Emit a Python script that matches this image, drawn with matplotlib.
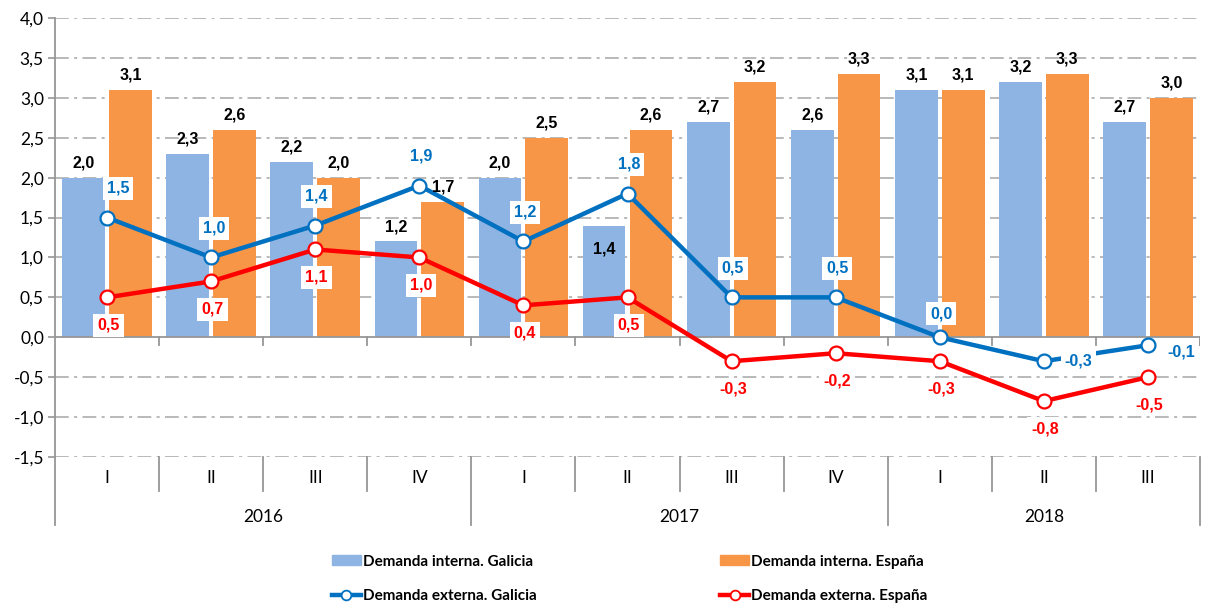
import matplotlib
matplotlib.use("Agg")
import matplotlib.pyplot as plt
import matplotlib.transforms as mtransforms
from matplotlib.lines import Line2D
from matplotlib.patches import Patch
import numpy as np

quarters = ["I", "II", "III", "IV", "I", "II", "III", "IV", "I", "II", "III"]
years = ["2016", "2017", "2018"]
year_spans = [(0, 4), (4, 8), (8, 11)]

interna_galicia = [2.0, 2.3, 2.2, 1.2, 2.0, 1.4, 2.7, 2.6, 3.1, 3.2, 2.7]
interna_espana = [3.1, 2.6, 2.0, 1.7, 2.5, 2.6, 3.2, 3.3, 3.1, 3.3, 3.0]
externa_galicia = [1.5, 1.0, 1.4, 1.9, 1.2, 1.8, 0.5, 0.5, 0.0, -0.3, -0.1]
externa_espana = [0.5, 0.7, 1.1, 1.0, 0.4, 0.5, -0.3, -0.2, -0.3, -0.8, -0.5]

yticks = [-1.5, -1.0, -0.5, 0.0, 0.5, 1.0, 1.5, 2.0, 2.5, 3.0, 3.5, 4.0]

C_BG = "#8DB4E2"
C_BE = "#F79646"
C_LG = "#0070C0"
C_LE = "#FF0000"
GRID = "#A6A6A6"

TICKFONT = "Lato"
LABFONT = "Liberation Sans"
LABSIZE = 11.5
TICKSIZE = 12.5

def fmt(v):
    return f"{v:.1f}".replace(".", ",")

fig = plt.figure(figsize=(12.06, 6.06), dpi=100)
ax = fig.add_axes([55/1206, 1-457/606, (1200-55)/1206, (457-18)/606])

x = np.arange(len(quarters))
bw = 0.41
off = 0.225

ax.set_xlim(-0.5, len(quarters)-0.5)
ax.set_ylim(-1.5, 4.0)

for t in yticks:
    if t == 0.0:
        continue
    ax.axhline(t, color=GRID, lw=1.1, ls=(0, (9, 3.5, 2, 3.5)), zorder=0)

ax.bar(x - off, interna_galicia, width=bw, color=C_BG, zorder=2)
ax.bar(x + off, interna_espana, width=bw, color=C_BE, zorder=2)

ax.axhline(0, color="#969696", lw=1.3, zorder=3)
for b in np.arange(0.5, len(quarters), 1.0):
    ax.add_line(Line2D([b, b], [0, -0.1], color="#969696", lw=1.3, zorder=3))
ax.add_line(Line2D([len(quarters)-0.5]*2, [0, -0.1], color="#969696", lw=1.3, zorder=3))

ax.plot(x, externa_galicia, color=C_LG, lw=3.2, marker="o", ms=10, mfc="white",
        mec=C_LG, mew=1.6, zorder=5)
ax.plot(x, externa_espana, color=C_LE, lw=3.2, marker="o", ms=10, mfc="white",
        mec=C_LE, mew=1.6, zorder=5)

# bar labels
for i, v in enumerate(interna_galicia):
    dy = 5 if i != 5 else -22
    ax.annotate(fmt(v), (x[i]-off, v), xytext=(0, dy), textcoords="offset points",
                ha="center", va="bottom", fontsize=LABSIZE, fontweight="bold",
                family=LABFONT, color="black", zorder=6)
for i, v in enumerate(interna_espana):
    ax.annotate(fmt(v), (x[i]+off, v), xytext=(0, 5), textcoords="offset points",
                ha="center", va="bottom", fontsize=LABSIZE, fontweight="bold",
                family=LABFONT, color="black", zorder=6)

box = dict(boxstyle="square,pad=0.25", fc="white", ec="none")
g_off = [(8, 21), (2, 21), (1, 21), (1, 21), (1, 21), (1, 21), (1, 21), (1, 21),
         (1, 17), (25, 0), (24, -5)]
for i, v in enumerate(externa_galicia):
    dx, dy = g_off[i]
    ax.annotate(fmt(v), (x[i], v), xytext=(dx, dy), textcoords="offset points",
                ha="center", va="center", fontsize=LABSIZE, fontweight="bold",
                family=LABFONT, color=C_LG, bbox=box, zorder=7)
for i, v in enumerate(externa_espana):
    ax.annotate(fmt(v), (x[i], v), xytext=(1, -20), textcoords="offset points",
                ha="center", va="center", fontsize=LABSIZE, fontweight="bold",
                family=LABFONT, color=C_LE, bbox=box, zorder=7)

# axes styling
for s in ["top", "right", "bottom"]:
    ax.spines[s].set_visible(False)
ax.spines["left"].set_color("#969696")
ax.spines["left"].set_linewidth(1.3)
ax.spines["left"].set_bounds(-1.5, 4.0)
ax.set_yticks(yticks)
ax.set_yticklabels([fmt(t) for t in yticks], fontsize=TICKSIZE, family=TICKFONT)
ax.tick_params(axis="y", length=5, width=1.2, color="#969696", pad=3)
ax.set_xticks([])

# multi-level category axis
tb = mtransforms.blended_transform_factory(ax.transData, ax.transAxes)
h_ax = 439.0
q_bot = -(491-457)/h_ax
y_bot = -(525-457)/h_ax
for i in range(len(quarters)+1):
    b = i - 0.5
    is_year = b in (-0.5, 3.5, 7.5, len(quarters)-0.5)
    ax.add_line(Line2D([b, b], [0, y_bot if is_year else q_bot], transform=tb,
                       color="#969696", lw=1.3, clip_on=False))
for i, q in enumerate(quarters):
    ax.text(x[i], -(478-457)/h_ax, q, transform=tb, ha="center", va="center",
            fontsize=TICKSIZE, family=TICKFONT)
for yl, (a, b) in zip(years, year_spans):
    ax.text((a+b-1)/2, -(517-457)/h_ax, yl, transform=tb, ha="center",
            va="center", fontsize=TICKSIZE, family=TICKFONT)

handles = [Patch(color=C_BG), Line2D([], [], color=C_LG, lw=3.2, marker="o", ms=7,
                                     mfc="white", mec=C_LG, mew=1.3),
           Patch(color=C_BE), Line2D([], [], color=C_LE, lw=3.2, marker="o", ms=7,
                                     mfc="white", mec=C_LE, mew=1.3)]
labels = ["Demanda interna. Galicia", "Demanda externa. Galicia",
          "Demanda interna. España", "Demanda externa. España"]
leg = fig.legend(handles, labels, ncol=2, loc="center left",
                 bbox_to_anchor=(318/1206, 1-579/606), frameon=False,
                 prop=dict(family=TICKFONT, size=11, weight="bold"),
                 handlelength=1.9, handleheight=0.6, handletextpad=0.15,
                 columnspacing=12.0, labelspacing=1.35)

fig.savefig("out.png", dpi=100)
